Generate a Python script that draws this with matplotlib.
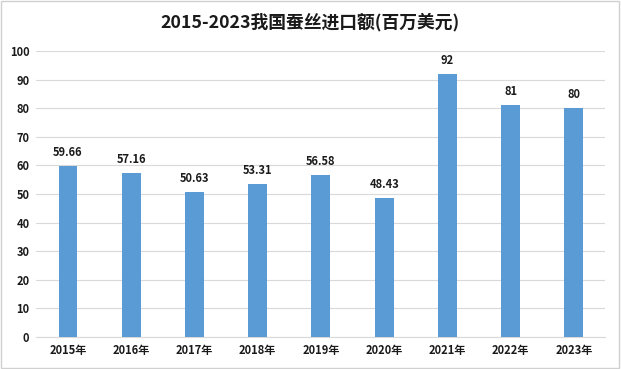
import matplotlib.pyplot as plt
from matplotlib.patches import Rectangle

plt.rcParams['font.family'] = ['Noto Sans CJK SC', 'DejaVu Sans']

years = ['2015年', '2016年', '2017年', '2018年', '2019年', '2020年', '2021年', '2022年', '2023年']
values = [59.66, 57.16, 50.63, 53.31, 56.58, 48.43, 92, 81, 80]
labels = ['59.66', '57.16', '50.63', '53.31', '56.58', '48.43', '92', '81', '80']

fig = plt.figure(figsize=(6.21, 3.69), dpi=100)
ax = fig.add_axes([0.0586, 0.0867, 0.9164, 0.7753])

x = range(len(years))
bars = ax.bar(x, values, width=0.3, color='#5B9BD5', zorder=3)
for i, v in enumerate(values):
    ax.text(i, v + 2.5, labels[i], ha='center', va='bottom', fontsize=8,
            fontweight='bold', color='#1a1a1a')

ax.set_xlim(-0.5, len(years) - 0.5)
ax.set_ylim(0, 100)
ax.set_yticks(range(0, 101, 10))
ax.set_xticks(list(x))
ax.set_xticklabels(years)
ax.grid(axis='y', color='#D9D9D9', linewidth=0.8, zorder=0)
for s in ['top', 'right', 'left']:
    ax.spines[s].set_visible(False)
ax.spines['bottom'].set_color('#D9D9D9')
ax.tick_params(length=0, labelsize=8, pad=5)
for t in ax.get_xticklabels() + ax.get_yticklabels():
    t.set_fontweight('bold')
    t.set_color('#1a1a1a')

fig.text(0.5, 0.94, '2015-2023我国蚕丝进口额(百万美元)', ha='center', va='center',
         fontsize=12.8, fontweight='bold', color='#1a1a1a')

fig.patches.append(Rectangle((0.002, 0.003), 0.995, 0.994, transform=fig.transFigure,
                             fill=False, edgecolor='#D0D0D0', linewidth=1))

fig.savefig('out.png', dpi=100)
